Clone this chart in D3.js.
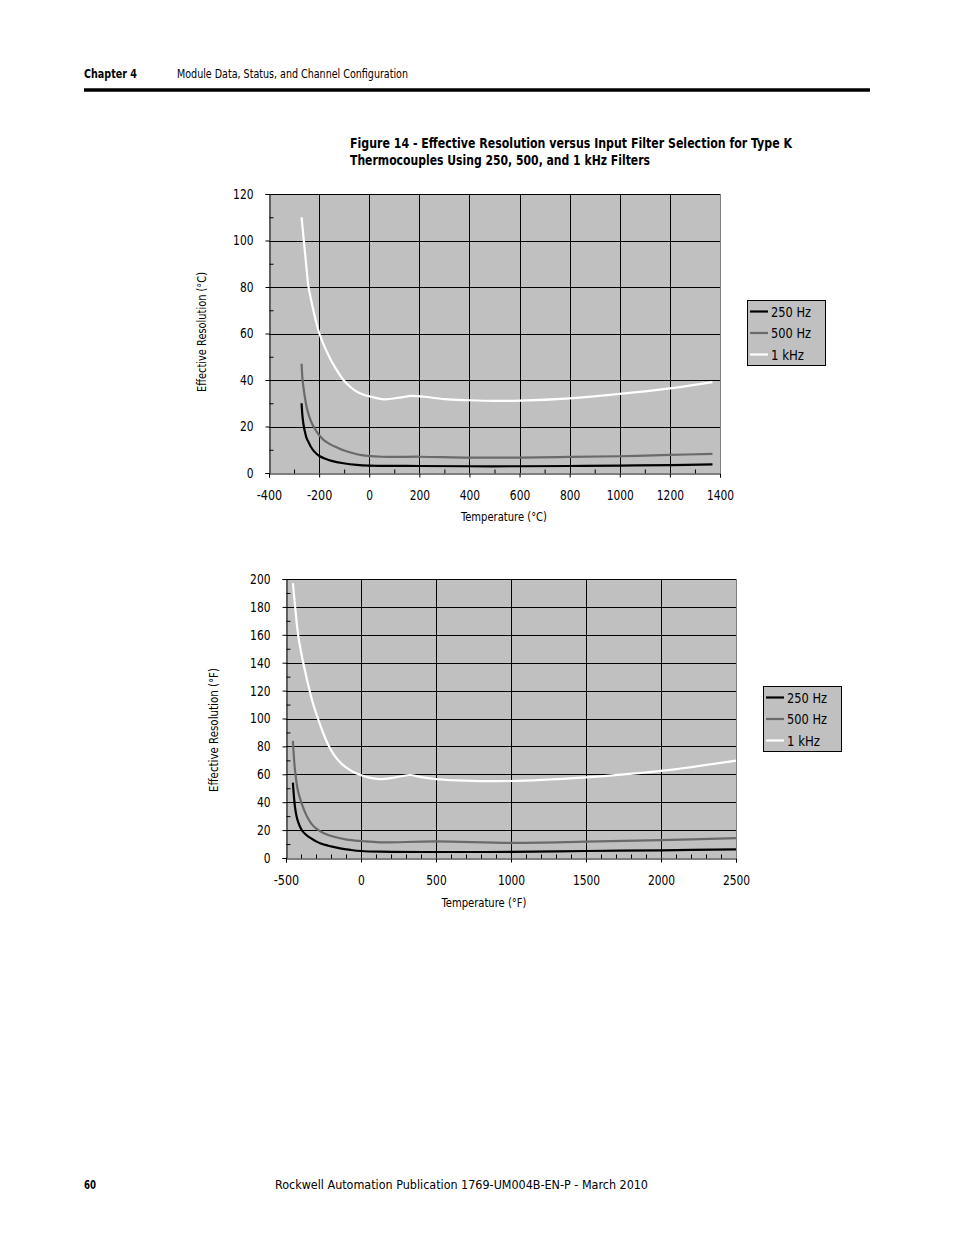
<!DOCTYPE html>
<html><head><meta charset="utf-8">
<script src="https://cdn.jsdelivr.net/npm/d3@7"></script>
<style>
body{margin:0;background:#fff;}
text{font-family:"DejaVu Sans Condensed","Liberation Sans",sans-serif;}
</style></head>
<body>
<svg id="c" width="954" height="1235"></svg>
<script>
// ---- Data: Celsius chart ----
const seriesNames = ["250 Hz","500 Hz","1 kHz"];
const seriesColors = ["#000000","#6a6a6a","#ffffff"];
const tempC_250 = [-270,-266,-261,-255,-250,-240,-233,-220,-199,-175,-150,-103,-50,0,200,400,600,800,1000,1200,1370];
const resC_250  = [30,24,20,17,15,12.8,11.3,9.3,7.3,6.1,5.2,4.2,3.5,3.2,3.0,2.9,2.9,3.0,3.2,3.4,3.7];
const tempC_500 = [-270,-266,-258,-250,-240,-225,-210,-200,-180,-150,-129,-100,-60,-30,0,50,100,200,400,600,800,1000,1200,1370];
const resC_500  = [47,40,33.5,28.5,24.5,20.5,17.8,16.3,14,12,11,9.7,8.4,7.7,7.3,7.0,6.9,7.0,6.6,6.6,6.9,7.2,7.8,8.2];
const tempC_1k  = [-270,-261,-252,-243,-235,-225,-212,-199,-175,-150,-125,-103,-75,-50,-25,0,60,120,170,220,300,400,500,600,800,1000,1200,1370];
const resC_1k   = [110,100,90,80.5,76,71,65,60,53.5,48,43.5,40,37,35,33.8,33,31.7,32.4,33.2,32.8,31.8,31.3,31,31.1,32.1,34,36.4,39.1];
const xTicksC = [-400,-200,0,200,400,600,800,1000,1200,1400];
const yTicksC = [0,20,40,60,80,100,120];

// ---- Data: Fahrenheit chart ----
const tempF_250 = [-454,-447,-440,-429,-418,-405,-390,-370,-351,-310,-273,-200,-140,-70,0,127,500,1000,1500,2000,2500];
const resF_250  = [54,44,36.5,29.6,25.5,22,19.3,17,15.3,12.6,10.5,8.3,6.9,5.8,5,4.5,4.3,4.4,5,5.5,6.2];
const tempF_500 = [-454,-440,-420,-395,-370,-351,-330,-300,-251,-180,-95,0,60,127,500,1000,1500,2000,2500];
const resF_500  = [84,63,48,39,32,28,24.5,21.3,18,15.2,13.2,12.2,11.8,11.2,11.9,10.9,11.7,12.8,14.2];
const tempF_1k  = [-454,-440,-418,-395,-373,-345,-318,-284,-250,-218,-180,-129,-80,-29,30,82,127,200,270,327,400,500,1000,1500,2000,2500];
const resF_1k   = [197,181,159,145,134,121,110,99,89,81,74,67.5,63.5,60.5,58.3,57.1,56.6,57.3,58.6,59.5,58,56.6,55.2,57.8,62.4,69.8];
const xTicksF = [-500,0,500,1000,1500,2000,2500];
const yTicksF = [0,20,40,60,80,100,120,140,160,180,200];

const svg = d3.select("#c");
function fit(sel,len){ return sel.attr("textLength",len).attr("lengthAdjust","spacingAndGlyphs"); }
function numLen(s){ let w=0; for(const ch of s){ w += (ch==="-")?5:6.8; } return w; }

// Header
fit(svg.append("text").attr("x",84).attr("y",78).attr("font-size",12.5).attr("font-weight","bold").text("Chapter 4"),53);
fit(svg.append("text").attr("x",177).attr("y",78).attr("font-size",12.5).text("Module Data, Status, and Channel Configuration"),231);
svg.append("line").attr("x1",84).attr("x2",870).attr("y1",90).attr("y2",90).attr("stroke","#000").attr("stroke-width",3.5);

// Title
fit(svg.append("text").attr("x",350).attr("y",148).attr("font-size",14.5).attr("font-weight","bold")
  .text("Figure 14 - Effective Resolution versus Input Filter Selection for Type K"),442);
fit(svg.append("text").attr("x",350).attr("y",165).attr("font-size",14.5).attr("font-weight","bold")
  .text("Thermocouples Using 250, 500, and 1 kHz Filters"),300);

// Footer
fit(svg.append("text").attr("x",84).attr("y",1189).attr("font-size",13).attr("font-weight","bold").text("60"),12);
fit(svg.append("text").attr("x",275).attr("y",1189).attr("font-size",13)
  .text("Rockwell Automation Publication 1769-UM004B-EN-P - March 2010"),373);

function drawChart(o){
  const x = d3.scaleLinear().domain(o.xDom).range(o.xR);
  const y = d3.scaleLinear().domain(o.yDom).range(o.yR);
  const g = svg.append("g");
  g.append("rect").attr("x",o.xR[0]).attr("y",o.yR[1]).attr("width",o.xR[1]-o.xR[0]).attr("height",o.yR[0]-o.yR[1]).attr("fill","#c0c0c0");
  g.selectAll(".hg").data(o.yTicks.filter(v=>v>o.yDom[0])).join("line")
    .attr("x1",o.xR[0]).attr("x2",o.xR[1]).attr("y1",d=>Math.round(y(d))+0.5).attr("y2",d=>Math.round(y(d))+0.5)
    .attr("stroke","#000").attr("stroke-width",1);
  g.selectAll(".vg").data(o.xTicks.filter(v=>v>o.xDom[0]&&v<o.xDom[1])).join("line")
    .attr("x1",d=>Math.round(x(d))+0.5).attr("x2",d=>Math.round(x(d))+0.5).attr("y1",o.yR[1]).attr("y2",o.yR[0])
    .attr("stroke","#000").attr("stroke-width",1);
  g.append("line").attr("x1",o.xR[1]+0.5).attr("x2",o.xR[1]+0.5).attr("y1",o.yR[1]).attr("y2",o.yR[0]).attr("stroke","#808080");
  const line = d3.line().x(d=>x(d[0])).y(d=>y(d[1])).curve(d3.curveCatmullRom.alpha(0.5));
  o.series.forEach((s,i)=>{
    g.append("path").datum(s[0].map((t,k)=>[t,s[1][k]])).attr("d",line)
      .attr("fill","none").attr("stroke",seriesColors[i]).attr("stroke-width",2.2);
  });
  const fmt = d=>String(d);
  const xa = g.append("g").attr("transform",`translate(0,${Math.round(o.yR[0])+0.5})`)
    .call(d3.axisBottom(x).tickValues(o.xTicks).tickSize(4).tickPadding(13).tickFormat(fmt));
  xa.selectAll("text").attr("font-size",14).attr("fill","#000").style("font-family",'"DejaVu Sans Condensed",sans-serif')
    .attr("textLength",d=>numLen(fmt(d))).attr("lengthAdjust","spacingAndGlyphs");
  xa.select(".domain").attr("stroke","#000");
  const xm = g.append("g").attr("transform",`translate(0,${Math.round(o.yR[0])+0.5})`)
    .call(d3.axisTop(x).tickValues(d3.range(o.xDom[0],o.xDom[1]+1,o.xMinor).filter(v=>!o.xTicks.includes(v))).tickSize(4).tickFormat(""));
  xm.select(".domain").remove();
  const ya = g.append("g").attr("transform",`translate(${Math.round(o.xR[0])+0.5},0)`)
    .call(d3.axisLeft(y).tickValues(o.yTicks).tickSize(4).tickPadding(12).tickFormat(fmt));
  ya.selectAll("text").attr("font-size",14).attr("fill","#000").style("font-family",'"DejaVu Sans Condensed",sans-serif')
    .attr("textLength",d=>numLen(fmt(d))).attr("lengthAdjust","spacingAndGlyphs");
  ya.select(".domain").attr("stroke","#000");
  const ym = g.append("g").attr("transform",`translate(${Math.round(o.xR[0])+0.5},0)`)
    .call(d3.axisRight(y).tickValues(d3.range(o.yDom[0]+o.yMinor,o.yDom[1],o.yMinor*2)).tickSize(4).tickFormat(""));
  ym.select(".domain").remove();
  fit(g.append("text").attr("x",o.xTitlePos[0]-o.xTitleLen/2).attr("y",o.xTitlePos[1]).attr("font-size",12.5).text(o.xTitle),o.xTitleLen);
  fit(g.append("text").attr("transform",`translate(${o.yTitlePos[0]},${o.yTitlePos[1]+o.yTitleLen/2}) rotate(-90)`).attr("font-size",12.5).text(o.yTitle),o.yTitleLen);
  const L = o.legend;
  g.append("rect").attr("x",L[0]+0.5).attr("y",L[1]+0.5).attr("width",78).attr("height",65).attr("fill","#c0c0c0").attr("stroke","#000");
  const legLens = [40,40,33];
  seriesNames.forEach((n,i)=>{
    const yy = L[1]+11.5+i*21.5;
    g.append("line").attr("x1",L[0]+3).attr("x2",L[0]+21).attr("y1",yy).attr("y2",yy).attr("stroke",seriesColors[i]).attr("stroke-width",2.2);
    fit(g.append("text").attr("x",L[0]+24).attr("y",yy+5).attr("font-size",14).text(n),legLens[i]);
  });
}

drawChart({xDom:[-400,1400],xR:[269,720],yDom:[0,120],yR:[473,194],xTicks:xTicksC,yTicks:yTicksC,xMinor:100,yMinor:10,
  series:[[tempC_250,resC_250],[tempC_500,resC_500],[tempC_1k,resC_1k]],
  xTitle:"Temperature (°C)",xTitlePos:[504,521],xTitleLen:86,yTitle:"Effective Resolution (°C)",yTitlePos:[206,332],yTitleLen:120,legend:[747,300]});
drawChart({xDom:[-500,2500],xR:[286,736],yDom:[0,200],yR:[858,579],xTicks:xTicksF,yTicks:yTicksF,xMinor:100,yMinor:10,
  series:[[tempF_250,resF_250],[tempF_500,resF_500],[tempF_1k,resF_1k]],
  xTitle:"Temperature (°F)",xTitlePos:[484,907],xTitleLen:85,yTitle:"Effective Resolution (°F)",yTitlePos:[218,730],yTitleLen:124,legend:[763,686]});
</script>
</body></html>
